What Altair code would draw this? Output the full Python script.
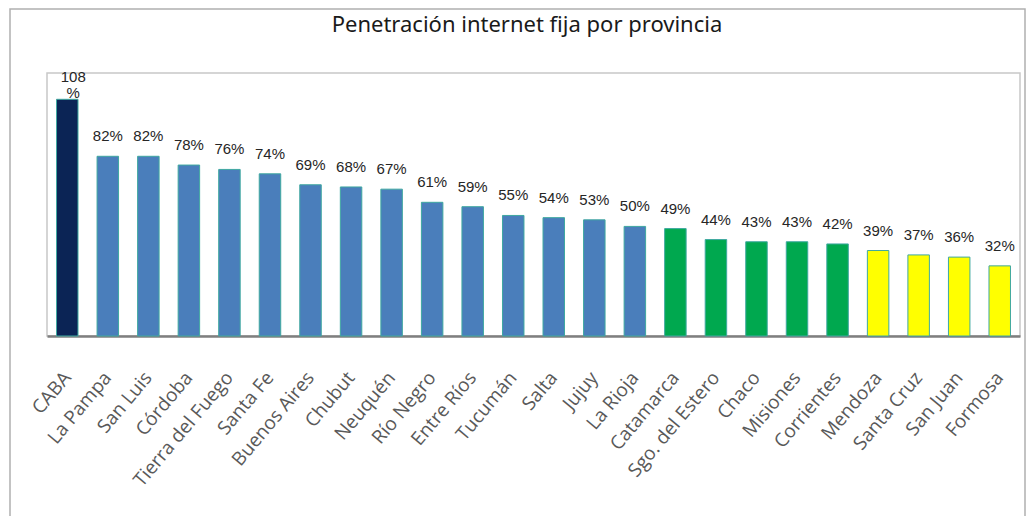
import altair as alt
import pandas as pd

titulo = "Penetración internet fija por provincia"
provincias = ["CABA", "La Pampa", "San Luis", "Córdoba", "Tierra del Fuego", "Santa Fe",
              "Buenos Aires", "Chubut", "Neuquén", "Río Negro", "Entre Ríos", "Tucumán",
              "Salta", "Jujuy", "La Rioja", "Catamarca", "Sgo. del Estero", "Chaco",
              "Misiones", "Corrientes", "Mendoza", "Santa Cruz", "San Juan", "Formosa"]
valores = [108, 82, 82, 78, 76, 74, 69, 68, 67, 61, 59, 55, 54, 53, 50, 49, 44, 43, 43, 42,
           39, 37, 36, 32]
grupos = ["top"] + ["alto"] * 14 + ["medio"] * 5 + ["bajo"] * 4
etiquetas = ["108\n%"] + [f"{v}%" for v in valores[1:]]

df = pd.DataFrame({"prov": provincias, "val": valores, "grupo": grupos, "lab": etiquetas})

W, H = 973, 263

xenc = alt.X("prov:N", sort=provincias,
             scale=alt.Scale(paddingInner=0.47, paddingOuter=0.235),
             axis=alt.Axis(title=None, labelAngle=-50, labelAlign="right", labelBaseline="middle",
                           labelFont="Open Sans", labelFontSize=19, labelColor="#595959",
                           labelPadding=38, ticks=False, domainColor="#7f7f7f",
                           domainWidth=2.5, labelOverlap=False, labelLimit=300))
yenc = alt.Y("val:Q", scale=alt.Scale(domain=[0, 120], nice=False), axis=None)

bars = alt.Chart(df).mark_bar(stroke="#3fa8a0", strokeWidth=1).encode(
    x=xenc, y=yenc,
    color=alt.Color("grupo:N", legend=None,
                    scale=alt.Scale(domain=["top", "alto", "medio", "bajo"],
                                    range=["#0b2455", "#4a7ebb", "#00a84f", "#ffff00"])),
)

txt = alt.Chart(df).transform_filter(alt.datum.grupo != "top").mark_text(
    baseline="bottom", dy=-12, font="Liberation Sans", fontSize=15, color="#262626"
).encode(x=xenc, y=yenc, text="lab:N")

txt_top = alt.Chart(df).transform_filter(alt.datum.grupo == "top").mark_text(
    baseline="bottom", dy=-14, dx=6, font="Liberation Sans", fontSize=15, color="#262626",
    lineBreak="\n", lineHeight=16
).encode(x=xenc, y=yenc, text="lab:N")

border = alt.Chart(pd.DataFrame({"a": [0]})).mark_rect(
    fill=None, stroke="#b0b0b0", strokeWidth=1.5
).encode(x=alt.value(-37), x2=alt.value(W + 5), y=alt.value(-64), y2=alt.value(H + 300))

title_layer = alt.Chart(pd.DataFrame({"t": [titulo]})).mark_text(
    font="Noto Sans", fontSize=22, color="#1a1a1a", align="center", baseline="alphabetic"
).encode(x=alt.value(480), y=alt.value(-41), text="t:N")

chart = alt.layer(border, title_layer, bars, txt, txt_top).properties(
    width=W, height=H,
    autosize=alt.AutoSizeParams(type="none"),
    padding={"left": 39, "top": 65, "right": 6, "bottom": 180},
).configure_view(stroke="#c8c8c8", strokeWidth=1.5)

chart.save("out.html", embed_options={"renderer": "svg", "actions": False})
